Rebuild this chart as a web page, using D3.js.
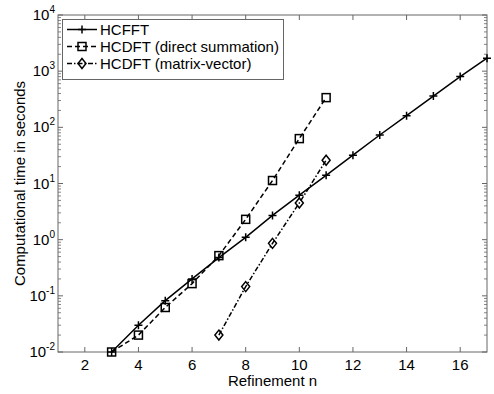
<!DOCTYPE html>
<html><head><meta charset="utf-8">
<script src="https://cdn.jsdelivr.net/npm/d3@7"></script>
<style>body{margin:0;background:#fff}svg{display:block;font-family:"Liberation Sans",Arial,sans-serif}</style>
</head><body><svg id="c" width="494" height="394"></svg>
<script>
const nFFT = [3,4,5,6,7,8,9,10,11,12,13,14,15,16,17];
const tFFT = [0.01,0.030,0.082,0.20,0.48,1.1,2.7,6.2,14,32,73,161,360,800,1700];
const nDirect = [3,4,5,6,7,8,9,10,11];
const tDirect = [0.01,0.020,0.062,0.165,0.52,2.3,11.3,63,338];
const nMatVec = [7,8,9,10,11];
const tMatVec = [0.02,0.146,0.86,4.5,26];
const xTicks = [2,4,6,8,10,12,14,16];
const yTickExps = [-2,-1,0,1,2,3,4];
const legendLabels = ["HCFFT","HCDFT (direct summation)","HCDFT (matrix-vector)"];

const svg = d3.select("#c");
const L=58,R=487,T=15,B=352;
const x = d3.scaleLinear().domain([1,17]).range([L,R]);
const y = d3.scaleLog().domain([0.01,10000]).range([B,T]);
const axCol="#666";

const minor=[];
for(let e=-2;e<4;e++) for(let k=2;k<=9;k++) minor.push(k*Math.pow(10,e));
const g=svg.append("g");
minor.forEach(v=>{
  g.append("line").attr("x1",L).attr("x2",L+3).attr("y1",y(v)).attr("y2",y(v)).attr("stroke",axCol).attr("stroke-width",0.8);
  g.append("line").attr("x1",R).attr("x2",R-3).attr("y1",y(v)).attr("y2",y(v)).attr("stroke",axCol).attr("stroke-width",0.8);
});
yTickExps.forEach(e=>{
  const v=Math.pow(10,e);
  g.append("line").attr("x1",L).attr("x2",L+5).attr("y1",y(v)).attr("y2",y(v)).attr("stroke",axCol);
  g.append("line").attr("x1",R).attr("x2",R-5).attr("y1",y(v)).attr("y2",y(v)).attr("stroke",axCol);
  const t=g.append("text").attr("x",L-3).attr("y",y(v)+5).attr("text-anchor","end").attr("font-size",15).attr("fill","#000");
  t.append("tspan").text("10");
  t.append("tspan").attr("dy",-7).attr("font-size",10).text(String(e));
});
xTicks.forEach(v=>{
  g.append("line").attr("x1",x(v)).attr("x2",x(v)).attr("y1",B).attr("y2",B-5).attr("stroke",axCol);
  g.append("line").attr("x1",x(v)).attr("x2",x(v)).attr("y1",T).attr("y2",T+5).attr("stroke",axCol);
  g.append("text").attr("x",x(v)).attr("y",B+18).attr("text-anchor","middle").attr("font-size",15).text(v);
});
g.append("rect").attr("x",L).attr("y",T).attr("width",R-L).attr("height",B-T).attr("fill","none").attr("stroke",axCol).attr("stroke-width",1);

svg.append("text").attr("x",(L+R)/2).attr("y",386).attr("text-anchor","middle").attr("font-size",15).text("Refinement n");
svg.append("text").attr("transform",`translate(25,${(T+B)/2}) rotate(-90)`).attr("text-anchor","middle").attr("font-size",15).text("Computational time in seconds");

const line=d3.line().x(d=>x(d[0])).y(d=>y(d[1]));
const series=[
 {n:nFFT,t:tFFT,dash:null,m:"plus"},
 {n:nDirect,t:tDirect,dash:"5,3",m:"square"},
 {n:nMatVec,t:tMatVec,dash:"5,2,1.5,2",m:"diamond"}
];
function marker(sel,type,cx,cy){
  if(type==="plus"){
    sel.append("path").attr("d",`M${cx-4},${cy}H${cx+4}M${cx},${cy-4}V${cy+4}`).attr("stroke","#000").attr("stroke-width",1.5);
  } else if(type==="square"){
    sel.append("rect").attr("x",cx-4).attr("y",cy-4).attr("width",8).attr("height",8).attr("fill","none").attr("stroke","#000").attr("stroke-width",1.5);
  } else {
    sel.append("path").attr("d",`M${cx},${cy-5}L${cx+4},${cy}L${cx},${cy+5}L${cx-4},${cy}Z`).attr("fill","none").attr("stroke","#000").attr("stroke-width",1.5);
  }
}
series.forEach(s=>{
  const data=s.n.map((n,i)=>[n,s.t[i]]);
  svg.append("path").datum(data).attr("d",line).attr("fill","none").attr("stroke","#000").attr("stroke-width",1.5).attr("stroke-dasharray",s.dash);
  const mg=svg.append("g");
  data.forEach(d=>marker(mg,s.m,x(d[0]),y(d[1])));
});

const lg=svg.append("g");
lg.append("rect").attr("x",62.5).attr("y",19.5).attr("width",221).attr("height",60).attr("fill","#fff").attr("stroke",axCol);
legendLabels.forEach((lab,i)=>{
  const yy=29.5+i*17;
  lg.append("line").attr("x1",67).attr("x2",97).attr("y1",yy).attr("y2",yy).attr("stroke","#000").attr("stroke-width",1.5).attr("stroke-dasharray",series[i].dash);
  marker(lg,series[i].m,82,yy);
  lg.append("text").attr("x",100).attr("y",yy+5.5).attr("font-size",15).text(lab);
});
</script></body></html>
